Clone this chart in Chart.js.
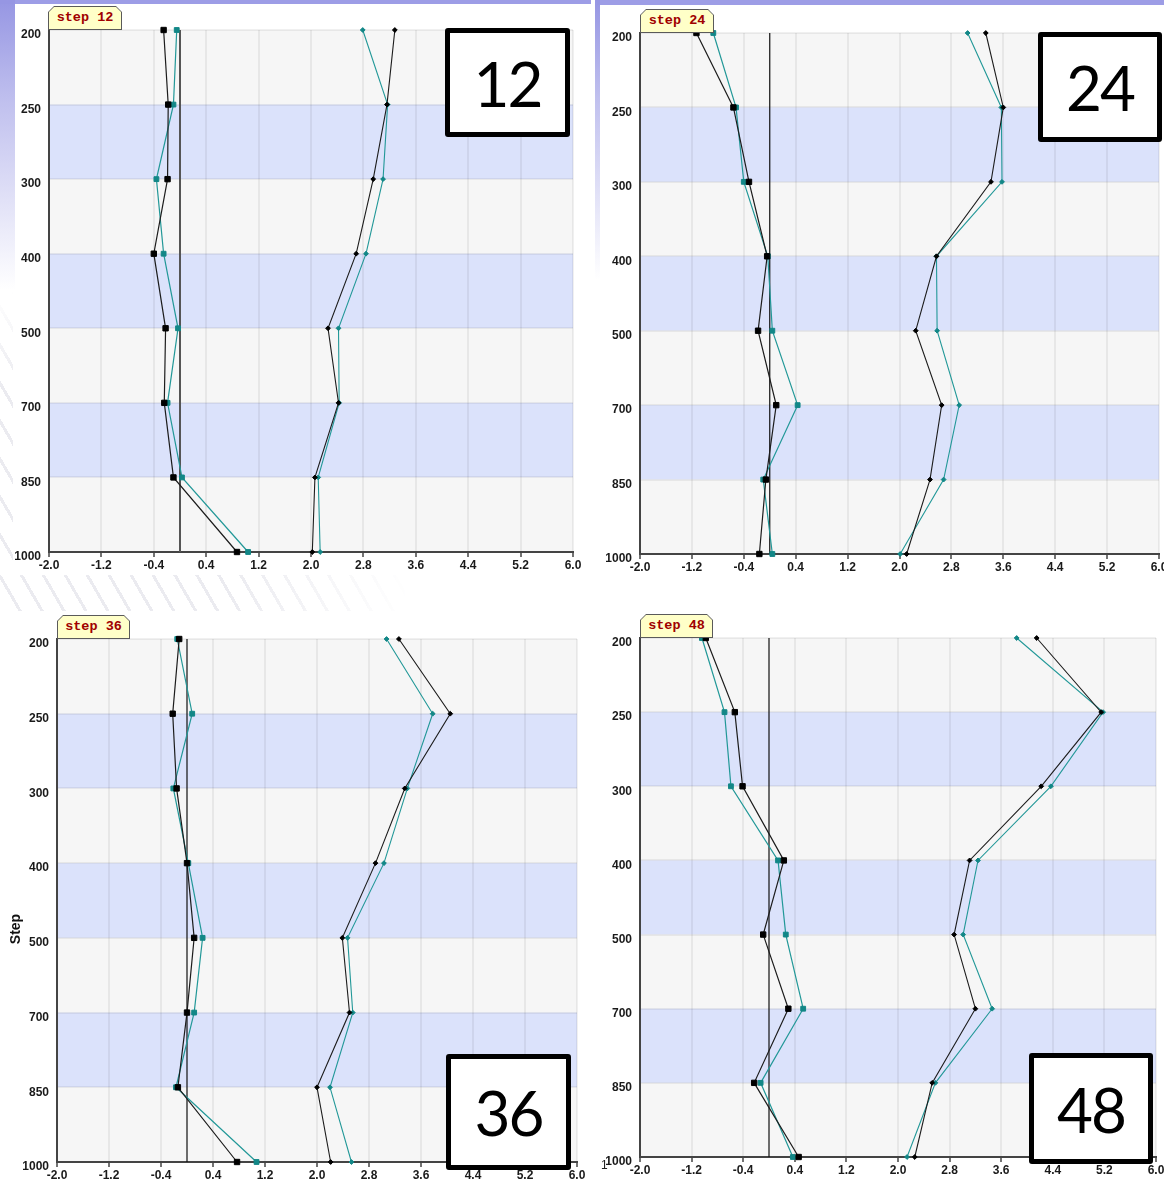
<!DOCTYPE html>
<html>
<head>
<meta charset="utf-8">
<title>Bias and RMSE profiles by forecast step</title>
<script src="https://cdn.jsdelivr.net/npm/chart.js"></script>
<style>
  html, body { margin: 0; padding: 0; background: #fff; width: 1164px; height: 1181px; overflow: hidden; position: relative; font-family: "Liberation Sans", Arial, sans-serif; }
  canvas { position: absolute; }
  .strip { position: absolute; background: #9d9de6; }
  .fade { position: absolute; background: linear-gradient(to bottom, #9696e3 0%, rgba(150,150,227,0.6) 35%, rgba(150,150,227,0) 100%); }
  .hatch { position: absolute; background: repeating-linear-gradient(60deg, rgba(255,255,255,0) 0 16px, #ebebf0 16px 19px); }
  .tab { position: absolute; height: 24px; background: #5a5a5a;
         clip-path: polygon(6px 0, calc(100% - 6px) 0, 100% 6px, 100% 100%, 0 100%, 0 6px); }
  .tab span { position: absolute; left: 1px; top: 1px; right: 1px; bottom: 1px; background: #ffffc8;
         clip-path: polygon(5px 0, calc(100% - 5px) 0, 100% 5px, 100% 100%, 0 100%, 0 5px);
         font: bold 13.5px "Liberation Mono", monospace; color: #a00000; line-height: 22px; text-align: center; white-space: pre; }
  .box { position: absolute; box-sizing: border-box; border: 5.5px solid #000; border-radius: 3px; background: #fff;
         display: flex; align-items: center; justify-content: center;
         font-family: Lato, "Open Sans", sans-serif; font-size: 62px; letter-spacing: -2px; color: #000; line-height: 1; }
  .ytitle { position: absolute; font: bold 14px "Liberation Sans", Arial, sans-serif; color: #111; transform: rotate(-90deg); transform-origin: center; }
  .note { position: absolute; font: 12px "Liberation Sans", Arial, sans-serif; color: #222; }
</style>
</head>
<body>
<div class="strip" style="left:0;top:0;width:591px;height:4px"></div>
<div class="strip" style="left:597px;top:0;width:567px;height:5px"></div>
<div class="fade" style="left:0;top:0;width:15px;height:290px"></div>
<div class="fade" style="left:595px;top:0;width:5px;height:280px"></div>
<div class="hatch" style="left:0;top:575px;width:410px;height:36px;-webkit-mask-image:linear-gradient(to right,#000 55%,transparent);mask-image:linear-gradient(to right,#000 55%,transparent)"></div>
<div class="hatch" style="left:0;top:290px;width:13px;height:280px;-webkit-mask-image:linear-gradient(to bottom,transparent,#000 35%);mask-image:linear-gradient(to bottom,transparent,#000 35%)"></div>

<canvas id="c12"></canvas>
<canvas id="c24"></canvas>
<canvas id="c36"></canvas>
<canvas id="c48"></canvas>

<div class="tab" style="left:48px;top:6px;width:74px"><span>step 12</span></div>
<div class="tab" style="left:640px;top:9px;width:74px"><span>step 24</span></div>
<div class="tab" style="left:57px;top:615px;width:73px"><span>step 36</span></div>
<div class="tab" style="left:640px;top:614px;width:73px"><span>step 48</span></div>

<div class="box" style="left:445px;top:28px;width:125px;height:109px">12</div>
<div class="box" style="left:1038px;top:32px;width:124px;height:110px">24</div>
<div class="box" style="left:446px;top:1054px;width:125px;height:116px">36</div>
<div class="box" style="left:1029px;top:1053px;width:124px;height:111px">48</div>

<div class="ytitle" style="left:-4px;top:921px;width:38px;text-align:center">Step</div>
<div class="note" style="left:601px;top:1158px">1</div>

<script>
// Pressure levels (hPa), top to bottom
const levels = ['200', '250', '300', '400', '500', '700', '850', '1000'];
// Value axis tick positions
const xTickValues = [-2.0, -1.2, -0.4, 0.4, 1.2, 2.0, 2.8, 3.6, 4.4, 5.2, 6.0];
// Reference line at zero
const zeroLine = [0, 0, 0, 0, 0, 0, 0, 0];

// Step 12
const bias12Black = [-0.25, -0.18, -0.19, -0.40, -0.22, -0.24, -0.10, 0.87];
const bias12Teal  = [-0.05, -0.10, -0.36, -0.25, -0.03, -0.19, 0.03, 1.04];
const rmse12Black = [3.28, 3.16, 2.95, 2.69, 2.26, 2.42, 2.06, 2.02];
const rmse12Teal  = [2.79, 3.17, 3.10, 2.84, 2.42, 2.43, 2.11, 2.14];

// Step 24
const bias24Black = [-1.13, -0.56, -0.32, -0.04, -0.18, 0.10, -0.06, -0.16];
const bias24Teal  = [-0.87, -0.52, -0.40, -0.03, 0.04, 0.43, -0.10, 0.04];
const rmse24Black = [3.33, 3.60, 3.41, 2.57, 2.25, 2.65, 2.47, 2.11];
const rmse24Teal  = [3.05, 3.57, 3.58, 2.57, 2.58, 2.92, 2.68, 2.01];

// Step 36
const bias36Black = [-0.12, -0.22, -0.16, 0.00, 0.11, 0.00, -0.14, 0.77];
const bias36Teal  = [-0.15, 0.08, -0.21, 0.02, 0.24, 0.11, -0.17, 1.07];
const rmse36Black = [3.26, 4.05, 3.35, 2.90, 2.39, 2.50, 2.00, 2.21];
const rmse36Teal  = [3.07, 3.78, 3.39, 3.03, 2.47, 2.55, 2.20, 2.53];

// Step 48
const bias48Black = [-0.98, -0.53, -0.41, 0.23, -0.09, 0.30, -0.23, 0.46];
const bias48Teal  = [-1.04, -0.69, -0.59, 0.14, 0.26, 0.53, -0.13, 0.37];
const rmse48Black = [4.15, 5.15, 4.22, 3.11, 2.87, 3.20, 2.53, 2.26];
const rmse48Teal  = [3.84, 5.18, 4.37, 3.24, 3.01, 3.46, 2.58, 2.14];

const BLACK_LINE = '#1c1c1c';
const BLACK_MARK = '#000000';
const TEAL_LINE = '#229898';
const TEAL_MARK = '#128787';
const BAND_GREY = '#f6f6f6';
const BAND_BLUE = '#dbe2fb';
const GRID = 'rgba(0,0,0,0.06)';

// Alternating level bands behind the plot
const levelBands = {
  id: 'levelBands',
  beforeDraw(chart) {
    const { ctx, chartArea: a, scales: { y } } = chart;
    ctx.save();
    for (let i = 0; i < levels.length - 1; i++) {
      const y0 = y.getPixelForValue(i);
      const y1 = y.getPixelForValue(i + 1);
      ctx.fillStyle = i % 2 ? BAND_BLUE : BAND_GREY;
      ctx.fillRect(a.left, y0, a.right - a.left, y1 - y0);
    }
    ctx.restore();
  }
};

const panels = [
  { id: 'c12', left: 0,   plot: [49, 30, 573, 552],   padR: 17, zeroColor: '#555', zeroWidth: 2,
    bias: [bias12Black, bias12Teal], rmse: [rmse12Black, rmse12Teal] },
  { id: 'c24', left: 597, plot: [640, 33, 1159, 554], padR: 5,  zeroColor: '#111', zeroWidth: 1.2,
    bias: [bias24Black, bias24Teal], rmse: [rmse24Black, rmse24Teal] },
  { id: 'c36', left: 0,   plot: [57, 639, 577, 1162], padR: 13, zeroColor: '#111', zeroWidth: 1.2,
    bias: [bias36Black, bias36Teal], rmse: [rmse36Black, rmse36Teal] },
  { id: 'c48', left: 597, plot: [640, 638, 1156, 1157], padR: 8, zeroColor: '#111', zeroWidth: 1.2,
    bias: [bias48Black, bias48Teal], rmse: [rmse48Black, rmse48Teal] }
];

const PAD_T = 8;   // room above the top level for markers
const X_H = 24;    // height of the value axis strip
const tickFont = { family: 'Liberation Sans', weight: 'bold', size: 12 };

function profile(data, color, markColor, style, radius, width) {
  return {
    data, borderColor: color, borderWidth: width,
    pointStyle: style, pointRadius: radius, pointBackgroundColor: markColor,
    pointBorderColor: markColor, pointBorderWidth: 1, clip: false, tension: 0
  };
}

panels.forEach(p => {
  const [pl, pt, pr, pb] = p.plot;
  const canvas = document.getElementById(p.id);
  const top = pt - PAD_T;
  const w = pr + p.padR - p.left;
  const h = pb + X_H - top;
  canvas.width = w; canvas.height = h;
  canvas.style.left = p.left + 'px';
  canvas.style.top = top + 'px';
  canvas.style.width = w + 'px';
  canvas.style.height = h + 'px';

  new Chart(canvas, {
    type: 'line',
    data: {
      labels: levels,
      datasets: [
        profile(p.bias[0], BLACK_LINE, BLACK_MARK, 'rect', 3.8, 1.2),
        profile(p.bias[1], TEAL_LINE, TEAL_MARK, 'rect', 3.4, 1.2),
        profile(p.rmse[0], BLACK_LINE, BLACK_MARK, 'rectRot', 2.4, 1.1),
        profile(p.rmse[1], TEAL_LINE, TEAL_MARK, 'rectRot', 2.4, 1.1),
        { data: zeroLine, borderColor: p.zeroColor, borderWidth: p.zeroWidth, pointRadius: 0, clip: false }
      ]
    },
    options: {
      indexAxis: 'y',
      responsive: false,
      animation: false,
      events: [],
      devicePixelRatio: 1,
      layout: { padding: { top: PAD_T, right: p.padR, left: 0, bottom: 0 } },
      plugins: { legend: { display: false }, tooltip: { enabled: false }, title: { display: false } },
      scales: {
        x: {
          type: 'linear', min: -2, max: 6,
          afterBuildTicks(s) { s.ticks = xTickValues.map(v => ({ value: v })); },
          afterFit(s) { s.height = X_H; s.paddingLeft = 0; s.paddingRight = 0; },
          grid: { color: GRID, lineWidth: 2, tickLength: 5, tickColor: '#444', tickWidth: 1.5 },
          border: { color: '#444', width: 2 },
          ticks: { callback: v => Number(v).toFixed(1), font: tickFont, color: '#1a1a1a', padding: 1, maxRotation: 0, autoSkip: false }
        },
        y: {
          type: 'category', labels: levels, offset: false,
          afterFit(s) { s.width = pl - p.left; s.paddingTop = 0; s.paddingBottom = 0; },
          grid: { color: GRID, lineWidth: 2, drawTicks: false },
          border: { color: '#444', width: 2 },
          ticks: { font: tickFont, color: '#1a1a1a', padding: 8, labelOffset: 5, autoSkip: false }
        }
      }
    },
    plugins: [levelBands]
  });
});
</script>
</body>
</html>
